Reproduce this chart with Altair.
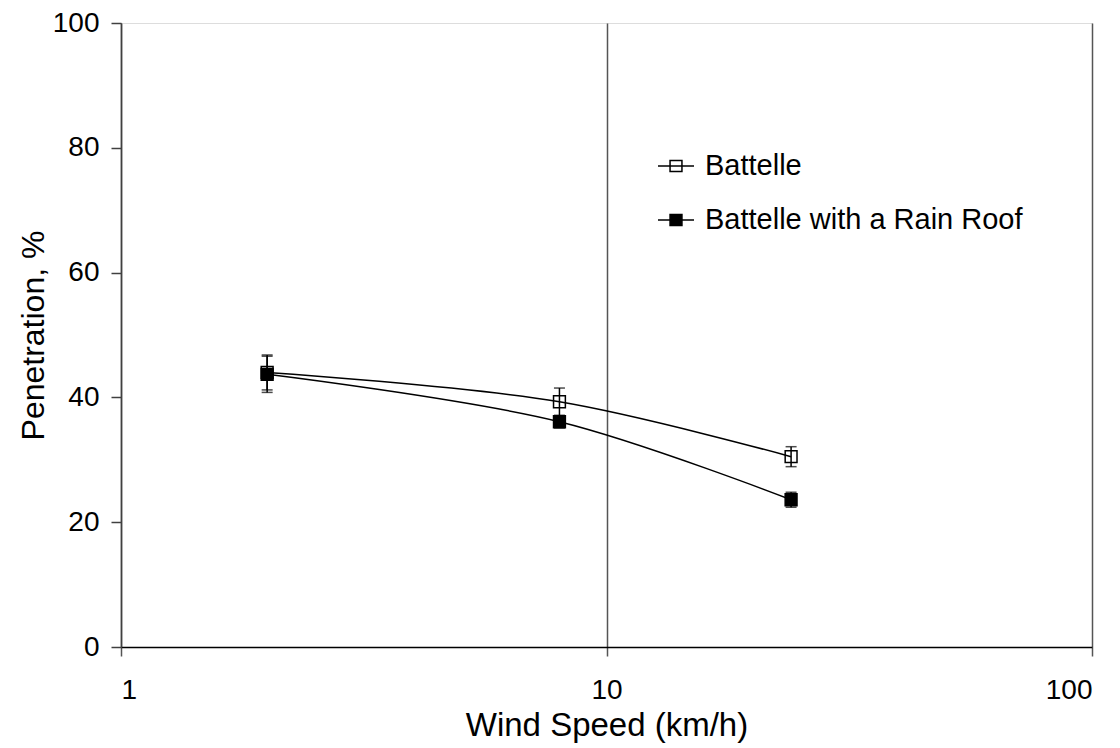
import altair as alt
import pandas as pd

wind = [2, 8, 24]
battelle = [44.0, 39.3, 30.5]
battelle_err = [2.8, 2.2, 1.6]
roof = [43.7, 36.1, 23.6]
roof_err = [2.9, 1.0, 1.2]
series_names = ["Battelle", "Battelle with a Rain Roof"]
x_ticks = [1, 10, 100]
y_ticks = [0, 20, 40, 60, 80, 100]

rows = []
for s, vals, errs in [(series_names[0], battelle, battelle_err), (series_names[1], roof, roof_err)]:
    for w, v, e in zip(wind, vals, errs):
        rows.append({"wind": w, "pen": v, "lo": v - e, "hi": v + e, "series": s})
df = pd.DataFrame(rows)

FONT = "Liberation Sans"

x_enc = alt.X("wind:Q",
              scale=alt.Scale(type="log", domain=[1, 100], nice=False),
              axis=alt.Axis(values=x_ticks, title="Wind Speed (km/h)", format="d",
                            grid=True, gridColor="#555555", gridWidth=1.5,
                            domainColor="black", domainWidth=1.5,
                            tickColor="#555555", tickSize=9, tickWidth=1.5,
                            labelFontSize=28, labelPadding=20,
                            titleFontSize=33, titleFontWeight="normal", titlePadding=5,
                            labelFont=FONT, titleFont=FONT, labelColor="black", titleColor="black"))
y_scale = alt.Scale(domain=[0, 100], nice=False)
y_axis = alt.Axis(values=y_ticks, title="Penetration, %", grid=False,
                  domainColor="#404040", domainWidth=1.5,
                  tickColor="#404040", tickSize=10, tickWidth=1.5,
                  labelFontSize=28, labelPadding=12,
                  titleFontSize=32, titleFontWeight="normal", titlePadding=2,
                  labelFont=FONT, titleFont=FONT, labelColor="black", titleColor="black")

base = alt.Chart(df)

lines = base.mark_line(color="black", strokeWidth=1.5, interpolate="catmull-rom").encode(
    x=x_enc,
    y=alt.Y("pen:Q", scale=y_scale, axis=y_axis),
    detail="series:N",
)

err_rule = base.mark_rule(color="black", strokeWidth=1.5).encode(
    x="wind:Q", y="lo:Q", y2="hi:Q")
cap_lo = base.mark_tick(color="black", orient="horizontal", size=11, thickness=1.5).encode(
    x="wind:Q", y="lo:Q")
cap_hi = base.mark_tick(color="black", orient="horizontal", size=11, thickness=1.5).encode(
    x="wind:Q", y="hi:Q")

legend_path = "M-1,0H1M-0.33,-0.3H0.33V0.3H-0.33Z"

points = base.mark_point(shape="square", size=140, filled=False, stroke="black",
                         strokeWidth=1.5, opacity=1).encode(
    x="wind:Q",
    y="pen:Q",
    fill=alt.Fill("series:N",
                  scale=alt.Scale(domain=series_names, range=["transparent", "black"]),
                  legend=alt.Legend(title=None, orient="none", legendX=536, legendY=124,
                                    symbolType=legend_path, symbolSize=1300,
                                    symbolStrokeColor="black", symbolStrokeWidth=1.5,
                                    labelFontSize=29, labelFont=FONT, labelColor="black",
                                    labelOffset=10, rowPadding=20, padding=0,
                                    labelLimit=0, symbolOpacity=1)),
)

chart = alt.layer(lines, err_rule, cap_lo, cap_hi, points).properties(
    width=971, height=624,
    autosize=alt.AutoSizeParams(type="none"),
    padding={"left": 113, "top": 15, "right": 20, "bottom": 101},
).configure_view(stroke="#888888", strokeWidth=1.5).configure(background="white")

chart.save("out.html", embed_options={"renderer": "svg", "actions": False})
